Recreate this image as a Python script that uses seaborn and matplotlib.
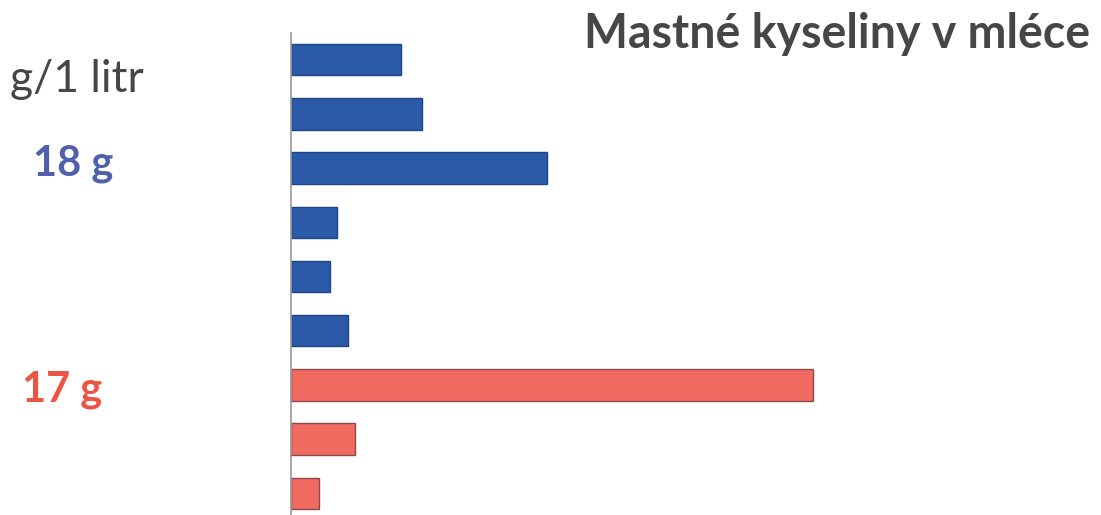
import matplotlib
matplotlib.use("Agg")
import matplotlib.pyplot as plt
import seaborn as sns
import pandas as pd

# Fatty acid amounts (g per litre of milk), top to bottom
kyseliny = ["k1", "k2", "k3", "k4", "k5", "k6", "k7", "k8", "k9"]
hodnoty = [3.1, 3.7, 7.2, 1.3, 1.1, 1.6, 14.7, 1.8, 0.8]
skupiny = ["nasycené"] * 6 + ["nenasycené"] * 3

barvy = {"nasycené": "#2B5BA8", "nenasycené": "#F06A60"}
okraje = {"nasycené": "#1E4585", "nenasycené": "#8A4A4A"}

df = pd.DataFrame({"kyselina": kyseliny, "g": hodnoty, "skupina": skupiny})

sns.set_style("white")
plt.rcParams["font.family"] = ["Lato", "DejaVu Sans"]

fig = plt.figure(figsize=(11.01, 5.15), dpi=100)
ax = fig.add_axes([291 / 1101, 1 - 520 / 515, 799 / 1101, 487 / 515])

sns.barplot(data=df, y="kyselina", x="g", hue="skupina", palette=barvy,
            orient="h", dodge=False, width=0.58, saturation=1, legend=False, ax=ax)

for patch, sk in zip(ax.patches, skupiny):
    patch.set_edgecolor(okraje[sk])
    patch.set_linewidth(1.0)

ax.set_xlim(0, 22.5)
ax.set_ylim(len(kyseliny) - 0.51, -0.49)
ax.set_xlabel("")
ax.set_ylabel("")
ax.set_xticks([])
ax.set_yticks([])
for s in ["top", "right", "bottom"]:
    ax.spines[s].set_visible(False)
ax.spines["left"].set_color("#9A9A9A")
ax.spines["left"].set_linewidth(1.2)

fig.text(1090 / 1101, 1 - 34 / 515, "Mastné kyseliny v mléce", ha="right", va="center",
         fontsize=33.5, fontweight="bold", color="#464646")
fig.text(10 / 1101, 1 - 80 / 515, "g/1 litr", ha="left", va="center",
         fontsize=32, color="#464646")
fig.text(33 / 1101, 1 - 164 / 515, "18 g", ha="left", va="center",
         fontsize=30, fontweight="bold", color="#5160AA")
fig.text(22 / 1101, 1 - 390 / 515, "17 g", ha="left", va="center",
         fontsize=30, fontweight="bold", color="#EE5443")

fig.savefig("out.png", dpi=100)
